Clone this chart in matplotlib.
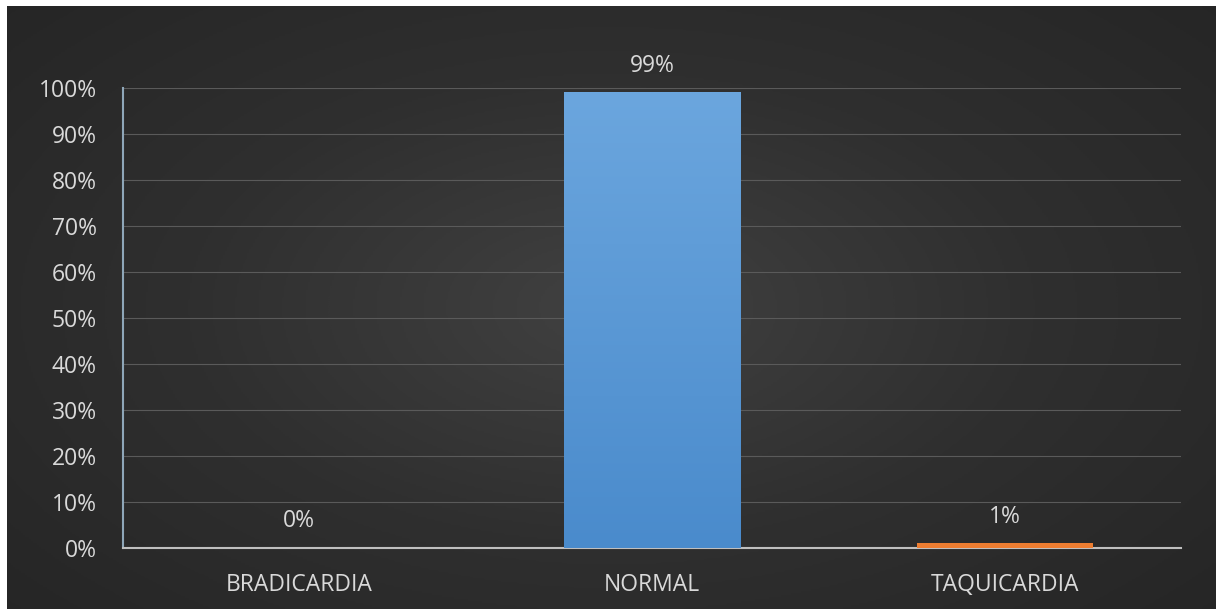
import matplotlib.pyplot as plt
import numpy as np
from matplotlib.colors import LinearSegmentedColormap

categorias = ["BRADICARDIA", "NORMAL", "TAQUICARDIA"]
porcentajes = [0, 99, 1]
etiquetas = ["0%", "99%", "1%"]
ticks_y = [0, 10, 20, 30, 40, 50, 60, 70, 80, 90, 100]

texto = "#d9d9d9"
plt.rcParams["font.family"] = ["Open Sans", "DejaVu Sans"]

fig = plt.figure(figsize=(12.16, 6.09), dpi=100)
fig.patch.set_facecolor("white")

# fondo oscuro con degradado radial (deja una franja blanca arriba y a la izquierda)
bg = fig.add_axes([7 / 1216, 0, 1 - 7 / 1216, 1 - 6 / 609])
yy, xx = np.mgrid[-1:1:300j, -1:1:600j]
r = np.sqrt(xx ** 2 + (yy * 0.9) ** 2)
fondo = LinearSegmentedColormap.from_list("fondo", ["#414141", "#2f2f2f", "#252525"])
bg.imshow(r, cmap=fondo, aspect="auto", extent=[0, 1, 0, 1], vmin=0, vmax=1.4)
bg.axis("off")

ax = fig.add_axes([123 / 1216, 61 / 609, (1181 - 123) / 1216, (548 - 88) / 609])
ax.set_facecolor("none")
x = np.arange(len(categorias))

barras = ax.bar(x, porcentajes, width=0.5, color=["#5b9bd5", "#5b9bd5", "#ed7d31"], zorder=3)

# degradado vertical en la barra azul
b = barras[1]
azul = LinearSegmentedColormap.from_list("azul", ["#4a8bcc", "#6ba6de"])
grad = np.linspace(0, 1, 256).reshape(-1, 1)
ax.imshow(grad, cmap=azul, origin="lower", aspect="auto", zorder=4,
          extent=[b.get_x(), b.get_x() + b.get_width(), 0, b.get_height()])

for xi, v, et in zip(x, porcentajes, etiquetas):
    ax.text(xi, v + 3.2, et, ha="center", va="bottom", color=texto, fontsize=16.5, zorder=5)

ax.set_xlim(-0.5, 2.5)
ax.set_ylim(0, 100)
ax.set_yticks(ticks_y)
ax.set_yticklabels([f"{t}%" for t in ticks_y])
ax.set_xticks(x)
ax.set_xticklabels(categorias)
ax.tick_params(axis="both", colors=texto, labelsize=16.5, length=0)
ax.tick_params(axis="y", pad=19)
ax.tick_params(axis="x", pad=18)
ax.grid(axis="y", color="#5a5a5a", linewidth=0.8, zorder=0)
ax.set_axisbelow(True)

for s in ["top", "right"]:
    ax.spines[s].set_visible(False)
ax.spines["left"].set_color("#8ea6b8")
ax.spines["left"].set_linewidth(1.5)
ax.spines["bottom"].set_color("#bfbfbf")
ax.spines["bottom"].set_linewidth(1.5)

fig.savefig("out.png", dpi=100, facecolor=fig.get_facecolor())
